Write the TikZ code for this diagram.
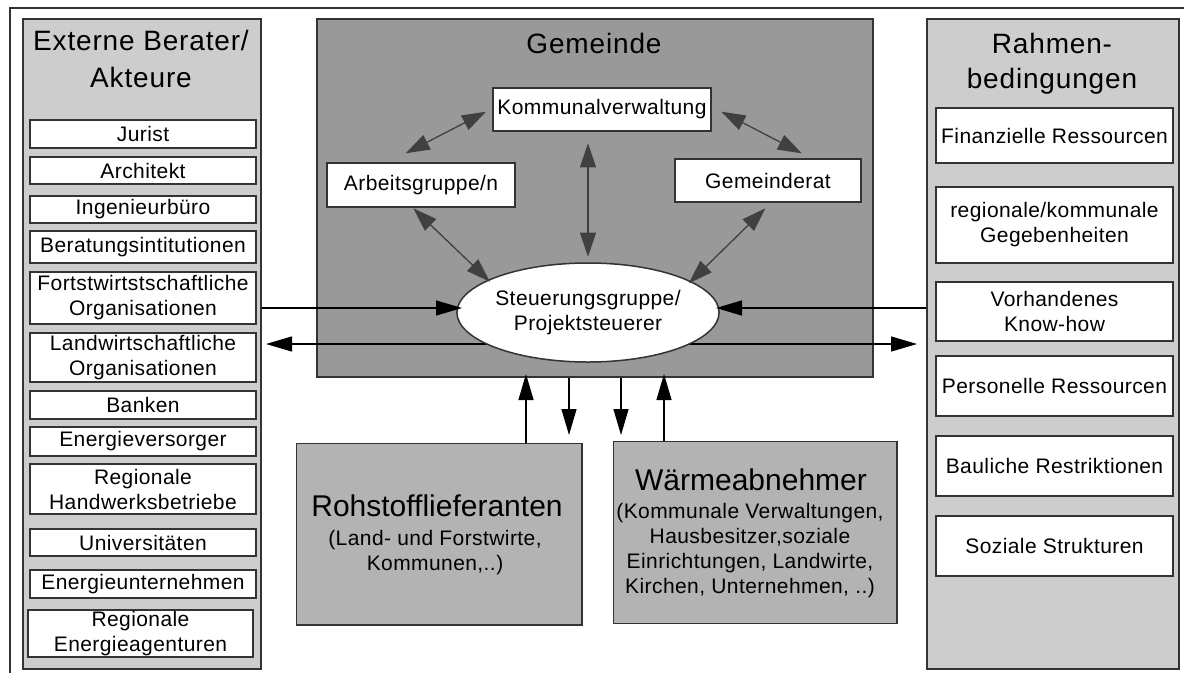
\documentclass[tikz,border=0pt]{standalone}
\usepackage{fontspec}
\setmainfont{Liberation Sans}
\newfontfamily\lsfont{Liberation Sans}[LetterSpace=2]
\newfontfamily\ttlfont{Liberation Sans}[LetterSpace=3]
\usetikzlibrary{shapes.geometric,arrows.meta}
\definecolor{panelgray}{HTML}{CDCDCD}
\definecolor{darkbox}{HTML}{999999}
\definecolor{midbox}{HTML}{B3B3B3}
\definecolor{edge}{HTML}{333333}
\definecolor{arrgray}{HTML}{404040}
\tikzset{
  frameline/.style={draw=edge, line width=2pt},
  panel/.style={draw=edge, line width=1.5pt, fill=panelgray, inner sep=0pt, anchor=north west},
  gembox/.style={draw=edge, line width=1.5pt, fill=darkbox, inner sep=0pt, anchor=north west},
  bigbox/.style={draw=edge, line width=1.5pt, fill=midbox, inner sep=0pt, anchor=north west},
  item/.style={draw=edge, line width=1.3pt, fill=white, inner sep=0pt, align=center,
    font=\lsfont\fontsize{21}{25}\selectfont},
  ttl/.style={inner sep=0pt, anchor=base, font=\ttlfont\fontsize{28}{34}\selectfont},
  bigttl/.style={inner sep=0pt, anchor=base, font=\fontsize{30}{36}\selectfont},
  subtxt/.style={inner sep=0pt, anchor=base, font=\lsfont\fontsize{21}{25}\selectfont},
  garrow/.style={draw=arrgray, line width=1.3pt,
    {Triangle[length=24pt,width=16pt]}-{Triangle[length=24pt,width=16pt]}},
  barrow/.style={draw=black, line width=1.2pt, -{Triangle[length=26pt,width=15pt]}},
  bbarrow/.style={draw=black, line width=1.2pt,
    {Triangle[length=26pt,width=15pt]}-{Triangle[length=26pt,width=15pt]}},
}
\begin{document}
\begin{tikzpicture}[x=1pt,y=-1pt]
\useasboundingbox (0,0) rectangle (1184,673);
\fill[white] (0,0) rectangle (1184,673);
% outer frame
\coordinate (f1) at (10,673);
\coordinate (f2) at (10,8);
\coordinate (f3) at (1184,8);
\draw[frameline] (f1) -- (f2) -- (f3);

% panels
\node[panel, minimum width=238, minimum height=650] (lp) at (22,18) {};
\node[panel, minimum width=252, minimum height=650] (rp) at (926,18) {};
\node[gembox, minimum width=556, minimum height=358] (gem) at (316,18) {};

% left titles
\node[ttl] (lt1) at (141,50) {Externe Berater/};
\node[ttl] (lt2) at (141,87) {Akteure};
% right titles
\node[ttl] (rt1) at (1052,53) {Rahmen-};
\node[ttl] (rt2) at (1052,88) {bedingungen};
% Gemeinde title
\node[ttl] (gt) at (594,53) {Gemeinde};

% left items
\node[item, minimum width=226, minimum height=28] (jur) at (143,134) {Jurist};
\node[item, minimum width=226, minimum height=27] (arc) at (143,170.5) {Architekt};
\node[item, minimum width=226, minimum height=27] (ing) at (143,209.5) {Ingenieurbüro};
\node[item, minimum width=226, minimum height=32] (ber) at (143,247) {Beratungsintitutionen};
\node[item, minimum width=226, minimum height=52] (for) at (143,298) {Fortstwirtstschaftliche\\Organisationen};
\node[item, minimum width=226, minimum height=49] (lan) at (143,357.5) {Landwirtschaftliche\\Organisationen};
\node[item, minimum width=226, minimum height=28] (ban) at (143,405) {Banken};
\node[item, minimum width=226, minimum height=29] (env) at (143,441.5) {Energieversorger};
\node[item, minimum width=226, minimum height=50] (hwb) at (143,489) {Regionale\\Handwerksbetriebe};
\node[item, minimum width=226, minimum height=27] (uni) at (143,542.5) {Universitäten};
\node[item, minimum width=226, minimum height=28] (enu) at (143,584) {Energieunternehmen};
\node[item, minimum width=225, minimum height=47] (ena) at (140.5,633.5) {Regionale\\Energieagenturen};

% right items
\node[item, minimum width=237, minimum height=55] (fin) at (1054.5,135.5) {Finanzielle Ressourcen};
\node[item, minimum width=237, minimum height=76] (reg) at (1054.5,225) {regionale/kommunale\\Gegebenheiten};
\node[item, minimum width=237, minimum height=59] (kno) at (1054.5,311.5) {Vorhandenes\\Know-how};
\node[item, minimum width=237, minimum height=60] (per) at (1054.5,386) {Personelle Ressourcen};
\node[item, minimum width=237, minimum height=60] (bau) at (1054.5,466) {Bauliche Restriktionen};
\node[item, minimum width=237, minimum height=60] (soz) at (1054.5,546) {Soziale Strukturen};

% Gemeinde inner boxes
\node[item, minimum width=218, minimum height=43] (kv) at (602,109.5) {Kommunalverwaltung};
\node[item, minimum width=188, minimum height=44] (ag) at (421,185) {Arbeitsgruppe/n};
\node[item, minimum width=186, minimum height=43] (gr) at (768,180.5) {Gemeinderat};

% long double arrow (behind ellipse)
\coordinate (la) at (266,344);
\coordinate (lb) at (917,344);
\draw[bbarrow] (la) -- (lb);

% ellipse
\node[ellipse, draw=edge, line width=1.5pt, fill=white, minimum width=228, minimum height=99,
  inner sep=0pt, align=center, font=\lsfont\fontsize{21}{25}\selectfont] (st) at (588,312.5)
  {Steuerungsgruppe/\\Projektsteuerer};

% grey arrows inside Gemeinde
\coordinate (a1) at (405.7,153.3);
\coordinate (a2) at (486,111.7);
\coordinate (b1) at (721.4,111.7);
\coordinate (b2) at (801.8,153.3);
\coordinate (c1) at (588,143.3);
\coordinate (c2) at (588,256.7);
\coordinate (d1) at (413.3,208.3);
\coordinate (d2) at (489.9,281.7);
\coordinate (e1) at (765.4,208.3);
\coordinate (e2) at (688.9,283.3);
\draw[garrow] (a1) -- (a2);
\draw[garrow] (b1) -- (b2);
\draw[garrow] (c1) -- (c2);
\draw[garrow] (d1) -- (d2);
\draw[garrow] (e1) -- (e2);

% horizontal arrows to ellipse
\coordinate (h1) at (462,308);
\coordinate (h2) at (716,308);
\draw[barrow] (lp.east |- h1) -- (h1);
\draw[barrow] (rp.west |- h2) -- (h2);

% bottom boxes
\node[bigbox, minimum width=285.5, minimum height=181.3] (roh) at (295.5,442.7) {};
\node[bigttl] (rohT) at (437,516.7) {Rohstofflieferanten};
\node[subtxt] (roh1) at (435,545) {(Land- und Forstwirte,};
\node[subtxt] (roh2) at (435,570) {Kommunen,..)};

\node[bigbox, minimum width=283.6, minimum height=182] (wae) at (612.7,440.7) {};
\node[bigttl] (waeT) at (751,490) {Wärmeabnehmer};
\node[subtxt] (wae1) at (750,518) {(Kommunale Verwaltungen,};
\node[subtxt] (wae2) at (750,543) {Hausbesitzer,soziale};
\node[subtxt] (wae3) at (750,568) {Einrichtungen, Landwirte,};
\node[subtxt] (wae4) at (750,593) {Kirchen, Unternehmen, ..)};

% vertical arrows between Gemeinde and bottom boxes
\coordinate (u1t) at (526,374);
\coordinate (d1b) at (569,435);
\coordinate (d2b) at (621,435);
\coordinate (u2t) at (664,374);
\draw[barrow] (roh.north -| u1t) -- (u1t);
\draw[barrow] (gem.south -| d1b) -- (d1b);
\draw[barrow] (gem.south -| d2b) -- (d2b);
\draw[barrow] (wae.north -| u2t) -- (u2t);
\end{tikzpicture}
\end{document}
